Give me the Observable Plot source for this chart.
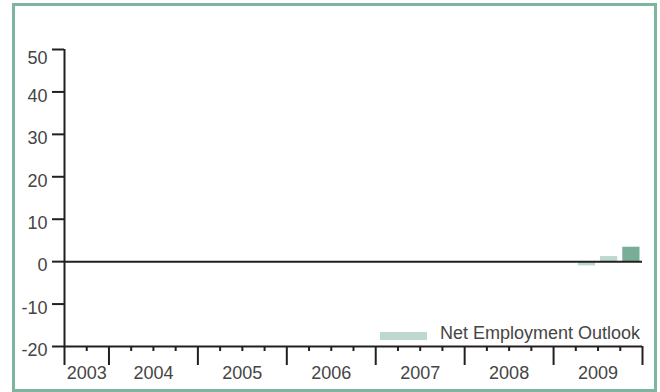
<!DOCTYPE html>
<html>
<head>
<meta charset="utf-8">
<script src="https://cdn.jsdelivr.net/npm/d3@7"></script>
<script src="https://cdn.jsdelivr.net/npm/@observablehq/plot@0.6"></script>
<style>
  html, body { margin: 0; padding: 0; background: #fff; }
  #wrap { position: relative; width: 660px; height: 392px; overflow: hidden; font-family: "Liberation Sans", Arial, sans-serif; }
  #border { position: absolute; left: 12px; top: 3px; width: 639px; height: 383px; border: 3px solid #7db59f; pointer-events: none; }
  #legend { position: absolute; left: 380px; top: 323px; display: flex; align-items: center; font-size: 18px; color: #454545; white-space: nowrap; }
  #legend .sw { width: 47px; height: 8px; background: #bdd9cd; margin-right: 13px; margin-top: 4px; }
  #chart svg { display: block; }
</style>
</head>
<body>
<div id="wrap">
  <div id="chart"></div>
  <div id="border"></div>
  <div id="legend"><span class="sw"></span><span>Net Employment Outlook</span></div>
</div>
<script>
// ---- data ----
const years = [2003, 2004, 2005, 2006, 2007, 2008, 2009];
const quartersPerYear = [2, 4, 4, 4, 4, 4, 4];
const barQuarters = ["2009 Q2", "2009 Q3", "2009 Q4"];
const barValues = [-1.0, 1.2, 3.4];
const barIsLatest = [false, false, true];
const yTicks = [-20, -10, 0, 10, 20, 30, 40, 50];
const seriesName = "Net Employment Outlook";

// ---- build quarter index ----
const quarterIndex = new Map();
const majorTicks = [];
const minorTicks = [];
const yearMid = [];
let idx = 0;
years.forEach((yr, k) => {
  const n = quartersPerYear[k];
  const start = idx;
  majorTicks.push(start);
  for (let q = 4 - n + 1; q <= 4; q++) {
    quarterIndex.set(`${yr} Q${q}`, idx);
    if (idx !== start) minorTicks.push(idx);
    idx++;
  }
  yearMid.push({pos: (start + idx) / 2, label: String(yr)});
});
majorTicks.push(idx);
const nQuarters = idx;
const midLabel = new Map(yearMid.map(d => [d.pos, d.label]));

const bars = barQuarters.map((q, i) => ({
  i: quarterIndex.get(q),
  value: barValues[i],
  latest: barIsLatest[i]
}));

const ink = "#231f20";
const textCol = "#454545";
const yMax = d3.max(yTicks);

const chart = Plot.plot({
  width: 660,
  height: 392,
  marginLeft: 64,
  marginRight: 18,
  marginTop: 49,
  marginBottom: 46,
  x: {domain: [0, nQuarters], axis: null, label: null},
  y: {domain: [-20, 50], axis: null, label: null},
  color: {type: "identity"},
  style: {fontFamily: "'Liberation Sans', Arial, sans-serif", fontSize: "18px", background: "transparent", color: textCol},
  marks: [
    Plot.rect(bars, {
      x1: "i",
      x2: d => d.i + 1,
      y1: 0,
      y2: "value",
      insetLeft: 2.5,
      insetRight: 2.5,
      fill: d => d.latest ? "#78ae98" : "#bdd9cd"
    }),
    Plot.ruleY([0], {stroke: ink, strokeWidth: 2}),
    Plot.ruleY([-20], {stroke: ink, strokeWidth: 2}),
    Plot.ruleX([0], {stroke: ink, strokeWidth: 2}),
    // y tick lines
    Plot.axisY({
      ticks: yTicks,
      tickSize: 12,
      stroke: ink,
      strokeWidth: 2,
      label: null,
      tickFormat: () => ""
    }),
    // y tick labels
    Plot.axisY({
      ticks: yTicks.filter(v => v !== yMax),
      tickSize: 0,
      tickPadding: 17,
      fill: textCol,
      dy: 4,
      label: null,
      tickFormat: d => String(d)
    }),
    Plot.axisY({
      ticks: [yMax],
      tickSize: 0,
      tickPadding: 17,
      fill: textCol,
      dy: 9,
      label: null,
      tickFormat: d => String(d)
    }),
    Plot.axisX({
      ticks: minorTicks,
      tickSize: 5,
      stroke: ink,
      strokeWidth: 2,
      label: null,
      tickFormat: () => ""
    }),
    Plot.axisX({
      ticks: majorTicks,
      tickSize: 19,
      stroke: ink,
      strokeWidth: 2,
      label: null,
      tickFormat: () => ""
    }),
    Plot.axisX({
      ticks: yearMid.map(d => d.pos),
      tickSize: 0,
      tickPadding: 20,
      fill: textCol,
      label: null,
      tickFormat: d => midLabel.get(d)
    })
  ]
});
document.getElementById("chart").appendChild(chart);
</script>
</body>
</html>
